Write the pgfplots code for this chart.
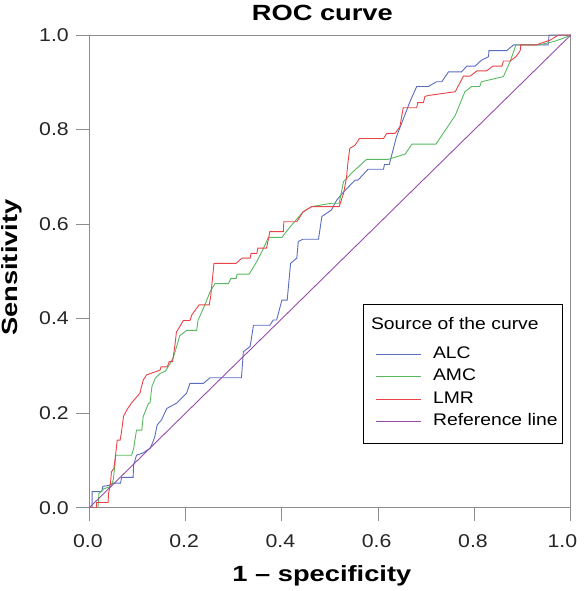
\documentclass[border=0pt]{standalone}
\usepackage{fontspec}
\setmainfont{Liberation Sans}[FakeStretch=1.15]
\newfontfamily\labfont{Liberation Sans}[FakeStretch=1.24]
\usepackage{pgfplots}
\pgfplotsset{compat=1.18}
\definecolor{alc}{RGB}{88,108,192}
\definecolor{amc}{RGB}{88,186,96}
\definecolor{lmrred}{RGB}{232,68,72}
\definecolor{refl}{RGB}{152,76,170}
\definecolor{axisgray}{RGB}{140,140,140}
\begin{document}
\begin{tikzpicture}
\useasboundingbox (-89.3bp,-83.3bp) rectangle (494.7bp,507.7bp);
\begin{axis}[
  at={(0,0)}, anchor=south west,
  scale only axis, width=481.5bp, height=472.7bp,
  xmin=0, xmax=1, ymin=0, ymax=1,
  axis line style={draw=axisgray, line width=0.9bp},
  xtick={0,0.2,0.4,0.6,0.8,1}, ytick={0,0.2,0.4,0.6,0.8,1},
  xticklabels={0.0,0.2,0.4,0.6,0.8,{\makebox[0pt][c]{\hspace*{-14bp}1.0}}},
  xtick pos=bottom, ytick pos=left, tick align=outside,
  major tick length=13bp,
  tick style={draw=axisgray, line width=0.9bp},
  tick label style={font=\fontsize{18.5bp}{21bp}\selectfont, text=black!85},
  xticklabel style={yshift=-10bp, xshift=-1.5bp},
  yticklabel style={xshift=-4bp},
  /pgf/number format/.cd, fixed, fixed zerofill, precision=1, assume math mode=true,
  /pgfplots/.cd,
  every axis title shift/.style={},
  title={ROC curve},
  title style={at={(axis description cs:0.484,1.0302)}, anchor=base, yshift=-6bp, font=\labfont\bfseries\fontsize{22bp}{24bp}\selectfont, inner sep=0pt},
  xlabel={1 – specificity},
  xlabel style={at={(axis description cs:0.483,-0.1566)}, anchor=base, font=\labfont\bfseries\fontsize{22bp}{24bp}\selectfont, inner sep=0pt},
  ylabel={Sensitivity},
  ylabel style={at={(axis description cs:-0.1495,0.508)}, anchor=base, rotate=0, font=\labfont\bfseries\fontsize{22bp}{24bp}\selectfont, inner sep=0pt},
  legend cell align=left,
  legend image code/.code={\path (0bp,0bp); \draw[#1,line width=1.1bp] (9bp,0bp) -- (54bp,0bp);},
  legend style={at={(axis cs:0.568,0.431)}, anchor=north west, draw=black, line width=0.6bp,
    font=\fontsize{16.8bp}{19bp}\selectfont, inner xsep=3bp, inner ysep=11.3bp, row sep=2.6bp,
    nodes={text height=12bp, text depth=4bp},
    /tikz/every odd column/.append style={column sep=10bp}},
  every axis plot/.append style={line width=0.9bp},
]
\addlegendimage{empty legend}
\addlegendentry[text depth=10bp]{\hspace*{-62bp}Source of the curve}

\addplot[alc] coordinates {
(0,0)(0.006,0)(0.006,0.034)(0.026,0.034)(0.028,0.045)(0.04,0.047)(0.05,0.052)(0.065,0.052)(0.067,0.064)(0.091,0.064)(0.092,0.090)(0.098,0.111)(0.112,0.116)(0.119,0.121)(0.126,0.125)(0.131,0.136)(0.136,0.150)(0.141,0.175)(0.150,0.186)(0.161,0.210)(0.181,0.221)(0.188,0.228)(0.202,0.242)(0.209,0.263)(0.237,0.263)(0.251,0.275)(0.316,0.275)(0.320,0.330)(0.334,0.341)(0.341,0.386)(0.375,0.386)(0.382,0.397)(0.389,0.397)(0.400,0.439)(0.411,0.439)(0.418,0.517)(0.431,0.528)(0.434,0.563)(0.444,0.568)(0.476,0.568)(0.483,0.616)(0.503,0.630)(0.514,0.651)(0.531,0.671)(0.552,0.693)(0.558,0.693)(0.579,0.716)(0.611,0.716)(0.613,0.726)(0.623,0.726)(0.638,0.785)(0.666,0.859)(0.680,0.891)(0.704,0.891)(0.721,0.901)(0.732,0.901)(0.746,0.922)(0.773,0.922)(0.784,0.934)(0.801,0.934)(0.815,0.947)(0.829,0.954)(0.830,0.967)(0.867,0.967)(0.881,0.979)(0.953,0.979)(0.955,1)(1,1)
};
\addlegendentry{ALC}

\addplot[amc] coordinates {
(0,0)(0.018,0)(0.02,0.03)(0.03,0.04)(0.045,0.045)(0.05,0.06)(0.053,0.09)(0.055,0.111)(0.088,0.111)(0.092,0.125)(0.098,0.164)(0.109,0.164)(0.112,0.193)(0.123,0.221)(0.126,0.221)(0.130,0.256)(0.137,0.274)(0.147,0.284)(0.158,0.289)(0.165,0.300)(0.175,0.319)(0.188,0.364)(0.202,0.375)(0.223,0.375)(0.226,0.397)(0.240,0.429)(0.251,0.457)(0.261,0.474)(0.289,0.474)(0.294,0.485)(0.305,0.485)(0.307,0.494)(0.332,0.494)(0.348,0.521)(0.360,0.545)(0.372,0.572)(0.400,0.572)(0.417,0.594)(0.444,0.626)(0.462,0.637)(0.503,0.644)(0.519,0.644)(0.528,0.690)(0.548,0.711)(0.576,0.737)(0.621,0.737)(0.656,0.748)(0.670,0.769)(0.720,0.769)(0.760,0.830)(0.780,0.880)(0.794,0.891)(0.811,0.891)(0.814,0.901)(0.860,0.912)(0.874,0.944)(0.886,0.979)(0.933,0.979)(0.964,0.986)(0.984,0.993)(1,1)
};
\addlegendentry{AMC}

\addplot[lmrred] coordinates {
(0,0)(0.015,0)(0.015,0.011)(0.039,0.011)(0.040,0.030)(0.044,0.052)(0.046,0.076)(0.051,0.083)(0.055,0.115)(0.058,0.143)(0.064,0.143)(0.067,0.161)(0.071,0.193)(0.078,0.207)(0.088,0.222)(0.105,0.242)(0.112,0.270)(0.119,0.281)(0.147,0.291)(0.149,0.298)(0.162,0.298)(0.166,0.309)(0.173,0.309)(0.178,0.345)(0.181,0.372)(0.188,0.383)(0.195,0.396)(0.209,0.396)(0.213,0.408)(0.220,0.418)(0.228,0.429)(0.249,0.429)(0.252,0.446)(0.259,0.517)(0.305,0.517)(0.317,0.528)(0.334,0.528)(0.336,0.538)(0.348,0.538)(0.350,0.549)(0.368,0.549)(0.375,0.584)(0.403,0.584)(0.404,0.605)(0.431,0.605)(0.444,0.626)(0.462,0.637)(0.519,0.637)(0.528,0.665)(0.534,0.697)(0.537,0.729)(0.541,0.760)(0.552,0.767)(0.561,0.781)(0.611,0.781)(0.618,0.792)(0.635,0.792)(0.645,0.806)(0.652,0.846)(0.680,0.846)(0.682,0.857)(0.694,0.857)(0.697,0.870)(0.704,0.872)(0.760,0.880)(0.777,0.913)(0.791,0.913)(0.805,0.924)(0.825,0.924)(0.838,0.934)(0.857,0.934)(0.860,0.945)(0.874,0.945)(0.886,0.954)(0.895,0.967)(0.896,0.979)(0.929,0.979)(0.936,0.982)(0.957,0.989)(0.974,1)(1,1)
};
\addlegendentry{LMR}

\addplot[refl] coordinates {(0,0)(1,1)};
\addlegendentry{Reference line}
\end{axis}
\end{tikzpicture}
\end{document}
